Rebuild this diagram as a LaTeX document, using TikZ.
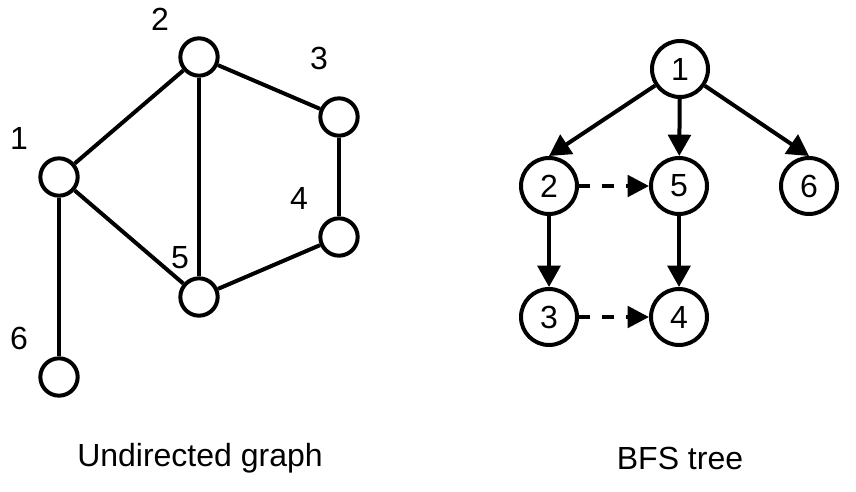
\documentclass[tikz,border=0pt]{standalone}
\usepackage{fontspec}
\setmainfont{Liberation Sans}
\usetikzlibrary{arrows.meta}
\begin{document}
\begin{tikzpicture}[x=0.75pt,y=-0.75pt,
  every node/.style={font=\fontsize{24}{28}\selectfont},
  smallv/.style={circle,draw,line width=3pt,minimum size=28pt,inner sep=0pt},
  big/.style={circle,draw,line width=3pt,minimum size=42pt,inner sep=0pt},
  lbl/.style={inner sep=0pt},
  edge/.style={line width=3pt},
  arr/.style={line width=3pt,-{Triangle[length=16pt,width=17pt]}},
  darr/.style={line width=3pt,dash pattern=on 8.5pt off 9pt,-{Triangle[length=16pt,width=16pt]}}
]
\useasboundingbox (0,0) rectangle (856,492);
% left graph
\node[smallv] (a1) at (59,177) {};
\node[smallv] (a2) at (199,57) {};
\node[smallv] (a3) at (339,117) {};
\node[smallv] (a4) at (339,237) {};
\node[smallv] (a5) at (199,297) {};
\node[smallv] (a6) at (59,377) {};
\node[lbl] (l1) at (19,138) {1};
\node[lbl] (l2) at (160,19) {2};
\node[lbl] (l3) at (319,58) {3};
\node[lbl] (l4) at (299,198) {4};
\node[lbl] (l5) at (180,258) {5};
\node[lbl] (l6) at (19,338) {6};
\draw[edge] (a1) -- (a2);
\draw[edge] (a1) -- (a5);
\draw[edge] (a1) -- (a6);
\draw[edge] (a2) -- (a3);
\draw[edge] (a2) -- (a5);
\draw[edge] (a3) -- (a4);
\draw[edge] (a4) -- (a5);
\node[lbl] (cap1) at (200,458) {Undirected graph};
% BFS tree
\node[big] (b1) at (680,69) {1};
\node[big] (b2) at (549,186) {2};
\node[big] (b5) at (679,186) {5};
\node[big] (b6) at (809,186) {6};
\node[big] (b3) at (549,317) {3};
\node[big] (b4) at (679,317) {4};
\draw[arr] (b1) -- (b2.north);
\draw[arr] (b1) -- (b5);
\draw[arr] (b1) -- (b6.north);
\draw[arr] (b2) -- (b3);
\draw[arr] (b5) -- (b4);
\draw[darr] (b2) -- (b5);
\draw[darr] (b3) -- (b4);
\node[lbl] (cap2) at (680,458) {BFS tree};
\end{tikzpicture}
\end{document}
